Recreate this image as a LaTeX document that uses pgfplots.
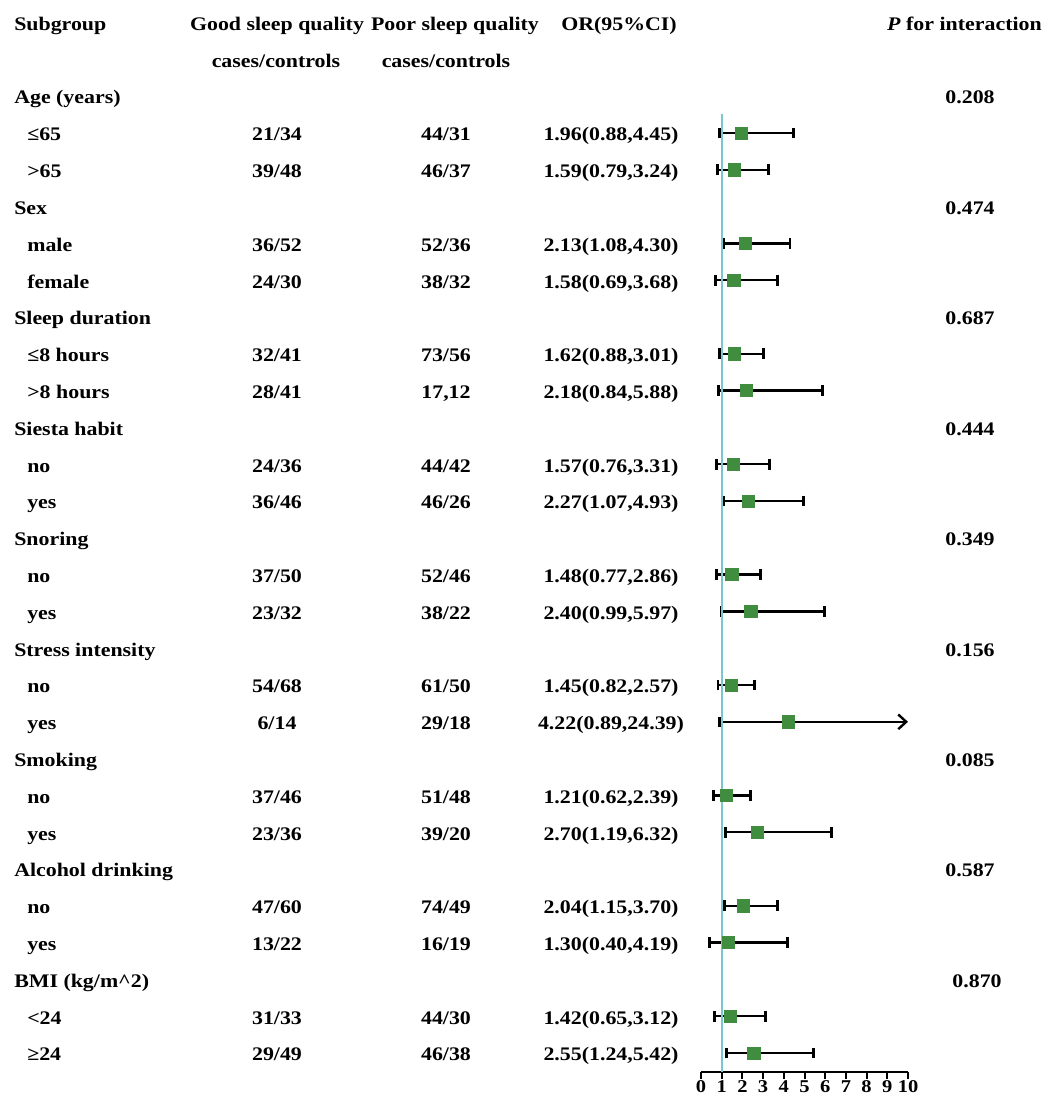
\documentclass[border=0pt]{standalone}
\usepackage{fontspec}
\setmainfont{Liberation Serif}[FakeStretch=1.14]
\usepackage{pgfplots}
\usepackage{pgfplotstable}
\pgfplotsset{compat=1.18}
\usetikzlibrary{arrows.meta}
\definecolor{refline}{RGB}{122,198,208}
\definecolor{sqgreen}{RGB}{64,141,63}

\pgfplotstableread{
y or lo hi
-133.0 1.96 0.88 4.45
-169.8 1.59 0.79 3.24
-243.4 2.13 1.08 4.30
-280.2 1.58 0.69 3.68
-353.8 1.62 0.88 3.01
-390.6 2.18 0.84 5.88
-464.2 1.57 0.76 3.31
-501.0 2.27 1.07 4.93
-574.6 1.48 0.77 2.86
-611.4 2.40 0.99 5.97
-685.0 1.45 0.82 2.57
-795.4 1.21 0.62 2.39
-832.2 2.70 1.19 6.32
-905.8 2.04 1.15 3.70
-942.6 1.30 0.40 4.19
-1016.2 1.42 0.65 3.12
-1053.0 2.55 1.24 5.42
}\ors

\pgfplotstableread{
y or lo
-721.8 4.22 0.89
}\stress

\newcommand\by[1]{30.4+36.8*#1}
\newcommand\grp[4]{%
  \node[anchor=base west] at (14,{\by{#1}}) {#2};
  \node[anchor=base] at (#4,{\by{#1}}) {#3};}
\newcommand\sub[5]{%
  \node[anchor=base west] at (27,{\by{#1}}) {#2};
  \node[anchor=base] at (277,{\by{#1}}) {#3};
  \node[anchor=base] at (446,{\by{#1}}) {#4};
  \node[anchor=base] at (611,{\by{#1}}) {#5};}

\begin{document}
\begin{tikzpicture}[font=\bfseries\fontsize{14.4}{17}\selectfont]
\begin{scope}[x=0.75pt,y=-0.75pt]
\path[use as bounding box] (0,0) rectangle (1046,1095);
\end{scope}
\begin{axis}[
  at={(525.75pt,-804pt)}, anchor=south west,
  scale only axis, width=155.25pt, height=718.5pt,
  xmin=0, xmax=10, ymin=-1072, ymax=-114,
  axis x line=bottom, axis y line=none,
  x axis line style={-, line width=1.5pt},
  xtick={0,1,...,10},
  tick align=outside, major tick length=5pt,
  tick style={line width=1.5pt, black},
  xticklabel style={font=\bfseries\fontsize{13.5}{13.5}\selectfont, inner sep=1pt},
  /pgf/number format/assume math mode=true,
  clip=false,
]
\addplot[only marks, mark=none,
  error bars/.cd, x dir=both, x explicit, error mark=|,
  error bar style={line width=1.8pt, black},
  error mark options={line width=2.2pt, mark size=4pt, black}]
  table[x=or, y=y, x error plus expr=\thisrow{hi}-\thisrow{or}, x error minus expr=\thisrow{or}-\thisrow{lo}] {\ors};
\addplot[black, line width=1.8pt, -{Straight Barb[length=6pt,width=11pt,line width=1.8pt]}]
  table[x=lo, y=y] {\stress} -- (axis cs:10,-721.8);
\addplot[black, line width=2.2pt] coordinates {(0.89,-716.5) (0.89,-727.1)};
\addplot[only marks, mark=square*, mark size=4.6pt, color=sqgreen] table[x=or, y=y] {\ors};
\addplot[only marks, mark=square*, mark size=4.6pt, color=sqgreen] table[x=or, y=y] {\stress};
\addplot[refline, line width=1.8pt] coordinates {(1,-114) (1,-1072)};
\end{axis}
\begin{scope}[x=0.75pt,y=-0.75pt, every node/.style={inner sep=0pt}]
\node[anchor=base west] at (14,{\by{0}}) {Subgroup};
\node[anchor=base] at (277,{\by{0}}) {Good sleep quality};
\node[anchor=base] at (455,{\by{0}}) {Poor sleep quality};
\node[anchor=base] at (619,{\by{0}}) {OR(95\%CI)};
\node[anchor=base east] at (1042,{\by{0}}) {\textit{P} for interaction};
\node[anchor=base] at (276,{\by{1}}) {cases/controls};
\node[anchor=base] at (446,{\by{1}}) {cases/controls};
\grp{2}{Age (years)}{0.208}{970}
\sub{3}{≤65}{21/34}{44/31}{1.96(0.88,4.45)}
\sub{4}{>65}{39/48}{46/37}{1.59(0.79,3.24)}
\grp{5}{Sex}{0.474}{970}
\sub{6}{male}{36/52}{52/36}{2.13(1.08,4.30)}
\sub{7}{female}{24/30}{38/32}{1.58(0.69,3.68)}
\grp{8}{Sleep duration}{0.687}{970}
\sub{9}{≤8 hours}{32/41}{73/56}{1.62(0.88,3.01)}
\sub{10}{>8 hours}{28/41}{17,12}{2.18(0.84,5.88)}
\grp{11}{Siesta habit}{0.444}{970}
\sub{12}{no}{24/36}{44/42}{1.57(0.76,3.31)}
\sub{13}{yes}{36/46}{46/26}{2.27(1.07,4.93)}
\grp{14}{Snoring}{0.349}{970}
\sub{15}{no}{37/50}{52/46}{1.48(0.77,2.86)}
\sub{16}{yes}{23/32}{38/22}{2.40(0.99,5.97)}
\grp{17}{Stress intensity}{0.156}{970}
\sub{18}{no}{54/68}{61/50}{1.45(0.82,2.57)}
\sub{19}{yes}{6/14}{29/18}{4.22(0.89,24.39)}
\grp{20}{Smoking}{0.085}{970}
\sub{21}{no}{37/46}{51/48}{1.21(0.62,2.39)}
\sub{22}{yes}{23/36}{39/20}{2.70(1.19,6.32)}
\grp{23}{Alcohol drinking}{0.587}{970}
\sub{24}{no}{47/60}{74/49}{2.04(1.15,3.70)}
\sub{25}{yes}{13/22}{16/19}{1.30(0.40,4.19)}
\grp{26}{BMI (kg/m\textasciicircum 2)}{0.870}{977}
\sub{27}{<24}{31/33}{44/30}{1.42(0.65,3.12)}
\sub{28}{≥24}{29/49}{46/38}{2.55(1.24,5.42)}
\end{scope}
\end{tikzpicture}
\end{document}
